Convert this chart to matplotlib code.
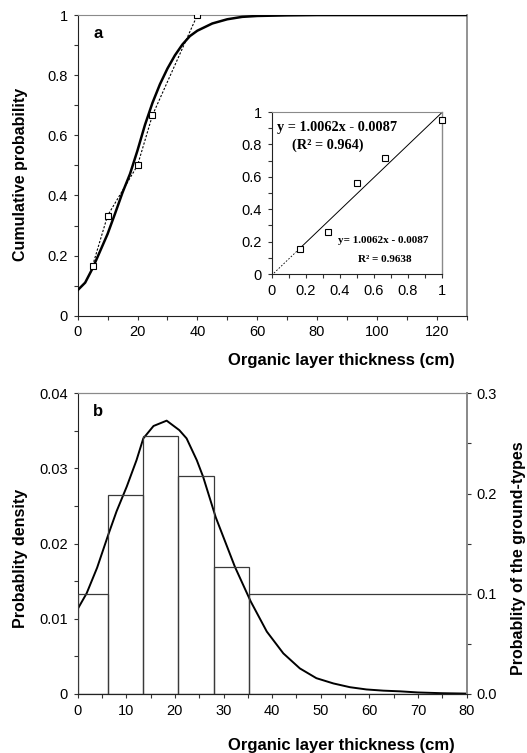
import numpy as np
import matplotlib
matplotlib.use("Agg")
import matplotlib.pyplot as plt
from matplotlib.ticker import MultipleLocator

plt.rcParams['font.family'] = ['Liberation Sans', 'DejaVu Sans']

# ---- panel a: cumulative probability ----
cdf_x = [0, 2.5, 5, 7.5, 10, 12.5, 15, 17.5, 20, 22.5, 25, 27.5, 30, 32.5,
         35, 37.5, 40, 45, 50, 55, 60, 70, 80, 130]
cdf_y = [0.085, 0.11, 0.158, 0.215, 0.272, 0.34, 0.41, 0.472, 0.55, 0.635,
         0.708, 0.77, 0.822, 0.866, 0.902, 0.93, 0.948, 0.972, 0.986, 0.994,
         0.997, 0.999, 1.0, 1.0]
obs_x = [5, 10, 20, 25, 40]
obs_y = [0.167, 0.333, 0.5, 0.667, 1.0]

# inset: observed vs predicted
ins_x = [0.167, 0.333, 0.5, 0.667, 1.0]
ins_y = [0.155, 0.26, 0.565, 0.715, 0.95]
slope, intercept = 1.0062, -0.0087

# ---- panel b: probability density + ground-type histogram ----
pdf_x = [0, 1.85, 4, 6.3, 8, 9.4, 10.1, 12.1, 13.5, 15.6, 18.3, 20.9, 22.4,
         24.5, 25.8, 28.4, 32.35, 35.6, 38.9, 42.3, 45.7, 49.1, 52.6, 56,
         59.4, 62.9, 66.3, 70, 75, 80]
pdf_y = [0.0113, 0.0134, 0.0168, 0.0212, 0.0243, 0.0265, 0.0276, 0.0311,
         0.0340, 0.03565, 0.03636, 0.0351, 0.0340, 0.0311, 0.0289, 0.0235,
         0.0169, 0.0123, 0.0083, 0.0054, 0.0034, 0.0021, 0.0014, 0.0009,
         0.0006, 0.00044, 0.00035, 0.0002, 0.0001, 0.00005]
bin_edges = [0, 6.3, 13.5, 20.6, 28.1, 35.3, 80]
bin_prob = [0.1, 0.1985, 0.257, 0.217, 0.127, 0.1]

dark = '#222222'
grey = '#8a8a8a'
lab_fs = 11.5


def style(ax):
    ax.spines['left'].set_color(dark)
    ax.spines['bottom'].set_color(dark)
    ax.spines['top'].set_color(grey)
    ax.spines['right'].set_color(grey)
    ax.spines['right'].set_linewidth(1.3)
    ax.tick_params(which='both', direction='out', length=3, width=0.8,
                   color='#333333', labelsize=10.5, pad=4)


fig = plt.figure(figsize=(5.27, 7.53), dpi=100)

# panel a
ax1 = fig.add_axes([0.1474, 0.5807, 0.738, 0.3993])
ax1.plot(cdf_x, cdf_y, color='black', lw=1.8, zorder=3)
ax1.plot(obs_x, obs_y, color='black', lw=0.8, ls=(0, (2, 1.5)), marker='s',
         ms=4, mfc='white', mec='black', mew=0.8, zorder=4)
ax1.set_xlim(0, 130)
ax1.set_ylim(0, 1)
ax1.xaxis.set_minor_locator(MultipleLocator(10))
ax1.yaxis.set_minor_locator(MultipleLocator(0.1))
ax1.set_xticks([0, 20, 40, 60, 80, 100, 120])
ax1.set_yticks([0, 0.2, 0.4, 0.6, 0.8, 1])
ax1.set_yticklabels(['0', '0.2', '0.4', '0.6', '0.8', '1'])
style(ax1)
ax1.set_xlabel('Organic layer thickness (cm)', fontsize=12, fontweight='bold')
ax1.xaxis.set_label_coords(0.677, -0.125)
ax1.set_ylabel('Cumulative probability', fontsize=lab_fs, fontweight='bold')
ax1.yaxis.set_label_coords(-0.128, 0.47)
ax1.text(0.04, 0.94, 'a', transform=ax1.transAxes, fontsize=12,
         fontweight='bold', va='center', ha='left')

# inset
axi = fig.add_axes([0.5152, 0.6361, 0.3235, 0.2151])
lx_dash = np.array([0, ins_x[0]])
lx_solid = np.array([ins_x[0], 1.0])
axi.plot(lx_dash, slope * lx_dash + intercept, color='black', lw=0.6,
         ls=(0, (2, 2)))
axi.plot(lx_solid, slope * lx_solid + intercept, color='black', lw=0.7)
axi.plot(ins_x, ins_y, ls='none', marker='s', ms=3.8, mfc='white',
         mec='black', mew=0.8, clip_on=False, zorder=4)
axi.set_xlim(0, 1)
axi.set_ylim(0, 1)
axi.set_xticks([0, 0.2, 0.4, 0.6, 0.8, 1])
axi.set_xticklabels(['0', '0.2', '0.4', '0.6', '0.8', '1'])
axi.set_yticks([0, 0.2, 0.4, 0.6, 0.8, 1])
axi.set_yticklabels(['0', '0.2', '0.4', '0.6', '0.8', '1'])
axi.xaxis.set_minor_locator(MultipleLocator(0.1))
axi.yaxis.set_minor_locator(MultipleLocator(0.1))
style(axi)
axi.spines['right'].set_linewidth(1.0)
serif = ['Liberation Serif', 'DejaVu Serif']
axi.text(0.035, 0.905, 'y = 1.0062x - 0.0087', transform=axi.transAxes,
         family=serif, fontsize=10.3, fontweight='bold', va='center')
axi.text(0.12, 0.795, '(R\u00b2 = 0.964)', transform=axi.transAxes,
         family=serif, fontsize=10.3, fontweight='bold', va='center')
axi.text(0.39, 0.21, 'y= 1.0062x - 0.0087', transform=axi.transAxes,
         family=serif, fontsize=8, fontweight='bold', va='center')
axi.text(0.51, 0.09, 'R\u00b2 = 0.9638', transform=axi.transAxes,
         family=serif, fontsize=8, fontweight='bold', va='center')

# panel b
ax2 = fig.add_axes([0.1474, 0.0784, 0.738, 0.3993])
ax2.plot(pdf_x, pdf_y, color='black', lw=1.4, zorder=3)
ax2.set_xlim(0, 80)
ax2.set_ylim(0, 0.04)
ax2.xaxis.set_major_locator(MultipleLocator(10))
ax2.xaxis.set_minor_locator(MultipleLocator(5))
ax2.set_yticks([0, 0.01, 0.02, 0.03, 0.04])
ax2.set_yticklabels(['0', '0.01', '0.02', '0.03', '0.04'])
ax2.yaxis.set_minor_locator(MultipleLocator(0.005))
style(ax2)
ax2.set_xlabel('Organic layer thickness (cm)', fontsize=12, fontweight='bold')
ax2.xaxis.set_label_coords(0.677, -0.145)
ax2.set_ylabel('Probablity density', fontsize=lab_fs, fontweight='bold')
ax2.yaxis.set_label_coords(-0.128, 0.45)
ax2.text(0.04, 0.94, 'b', transform=ax2.transAxes, fontsize=12,
         fontweight='bold', va='center', ha='left')

ax3 = ax2.twinx()
widths = np.diff(bin_edges)
ax3.bar(bin_edges[:-1], bin_prob, width=widths, align='edge', fill=False,
        edgecolor='#3a3a3a', lw=0.9)
ax3.set_ylim(0, 0.3)
ax3.set_yticks([0, 0.1, 0.2, 0.3])
ax3.set_yticklabels(['0.0', '0.1', '0.2', '0.3'])
ax3.yaxis.set_minor_locator(MultipleLocator(0.05))
style(ax3)
ax3.spines['left'].set_visible(False)
ax3.set_ylabel('Probablity of the ground-types', fontsize=lab_fs,
               fontweight='bold')
ax3.yaxis.set_label_coords(1.113, 0.45)

fig.savefig('out.png', dpi=100)
